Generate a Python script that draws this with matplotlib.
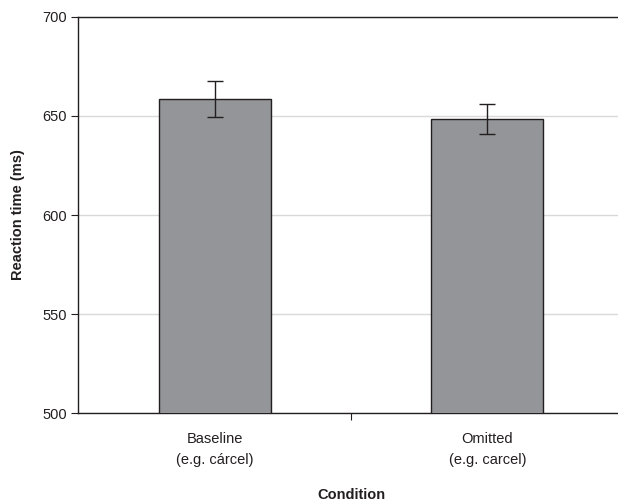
import matplotlib.pyplot as plt
import numpy as np

plt.rcParams['font.family'] = ['Liberation Sans', 'DejaVu Sans']

# data
conditions = ['Baseline\n(e.g. cárcel)', 'Omitted\n(e.g. carcel)']
rt_mean = [658.5, 648.4]
rt_err = [9.0, 7.7]

fig = plt.figure(figsize=(6.18, 5.03), dpi=100)
ax = fig.add_axes([0.127, 0.178, 0.882, 0.789])

x = np.arange(len(conditions))
ax.bar(x, rt_mean, width=0.41, color='#939598', edgecolor='#231f20',
       linewidth=1.0, zorder=3)
ax.errorbar(x, rt_mean, yerr=rt_err, fmt='none', ecolor='#231f20',
            elinewidth=1.0, capsize=6, capthick=1.0, zorder=4)

ax.set_ylim(500, 700)
ax.set_xlim(-0.5, 1.5)
ax.set_yticks([500, 550, 600, 650, 700])
ax.yaxis.grid(True, color='#d9d9d9', linewidth=1.0, zorder=0)
ax.set_axisbelow(True)

# category separators as major ticks, labels on minor ticks
ax.set_xticks([0.5])
ax.set_xticklabels([])
ax.set_xticks(x, minor=True)
ax.set_xticklabels(conditions, minor=True, fontsize=10.5, color='#231f20')
ax.tick_params(axis='x', which='minor', length=0, pad=13)
ax.tick_params(axis='x', which='major', length=5, color='#231f20')
ax.tick_params(axis='y', length=5, color='#231f20', labelsize=10.5,
               labelcolor='#231f20')
for lbl in ax.get_xticklabels(minor=True):
    lbl.set_linespacing(1.65)

for s in ['left', 'bottom', 'top']:
    ax.spines[s].set_color('#231f20')
    ax.spines[s].set_linewidth(1.0)
ax.spines['right'].set_visible(False)

ax.set_ylabel('Reaction time (ms)', fontsize=10.5, fontweight='bold',
              color='#231f20', labelpad=12)
ax.set_xlabel('Condition', fontsize=10.5, fontweight='bold', color='#231f20',
              labelpad=15)

fig.savefig('out.png', dpi=100)
